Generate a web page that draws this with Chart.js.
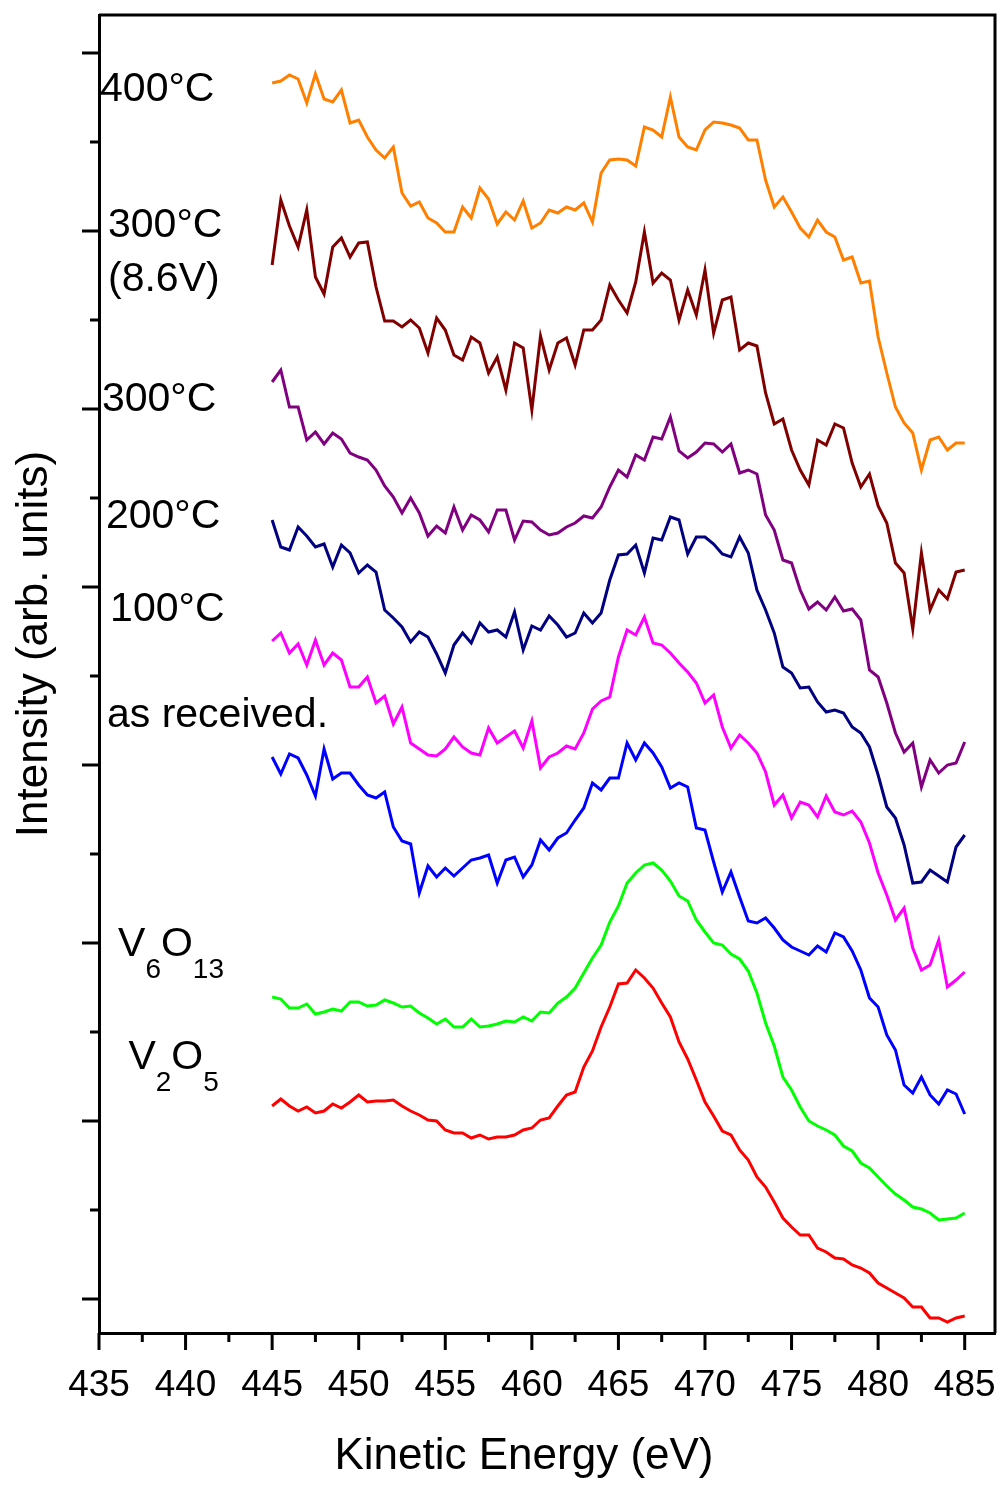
<!DOCTYPE html>
<html>
<head>
<meta charset="utf-8">
<script src="https://cdn.jsdelivr.net/npm/chart.js@4.4.0/dist/chart.umd.min.js"></script>
<style>
  body { margin: 0; background: #fff; }
  #wrap { width: 1001px; height: 1485px; }
</style>
</head>
<body>
<div id="wrap"><canvas id="xpsChart"></canvas></div>
<script>
// kinetic energy grid (eV)
const energy = [445, 445.5, 446, 446.5, 447, 447.5, 448, 448.5, 449, 449.5,
  450, 450.5, 451, 451.5, 452, 452.5, 453, 453.5, 454, 454.5,
  455, 455.5, 456, 456.5, 457, 457.5, 458, 458.5, 459, 459.5,
  460, 460.5, 461, 461.5, 462, 462.5, 463, 463.5, 464, 464.5,
  465, 465.5, 466, 466.5, 467, 467.5, 468, 468.5, 469, 469.5,
  470, 470.5, 471, 471.5, 472, 472.5, 473, 473.5, 474, 474.5,
  475, 475.5, 476, 476.5, 477, 477.5, 478, 478.5, 479, 479.5,
  480, 480.5, 481, 481.5, 482, 482.5, 483, 483.5, 484, 484.5, 485];

// intensities (arb. units, already offset for stacking)
const t400 = [1250, 1252, 1258, 1254, 1230, 1259, 1234, 1231, 1243, 1210,
  1213, 1196, 1183, 1175, 1186, 1140, 1127, 1131, 1115, 1110,
  1101, 1101, 1126, 1115, 1145, 1134, 1109, 1121, 1113, 1132,
  1105, 1110, 1123, 1120, 1126, 1123, 1130, 1111, 1160, 1173,
  1174, 1173, 1167, 1206, 1203, 1196, 1236, 1196, 1186, 1183,
  1203, 1211, 1210, 1208, 1205, 1193, 1193, 1153, 1126, 1136,
  1121, 1105, 1096, 1113, 1101, 1096, 1073, 1076, 1050, 1052,
  996, 960, 926, 910, 900, 863, 893, 896, 883, 890, 890];
const t300v = [1068, 1133, 1107, 1086, 1123, 1056, 1039, 1086, 1095, 1076,
  1090, 1091, 1046, 1012, 1012, 1006, 1013, 1005, 980, 1015,
  1003, 978, 973, 996, 990, 960, 976, 943, 990, 985,
  923, 997, 963, 990, 995, 968, 1003, 1003, 1013, 1048,
  1033, 1020, 1051, 1101, 1050, 1060, 1053, 1013, 1043, 1018,
  1063, 1000, 1033, 1036, 983, 990, 987, 940, 909, 914,
  883, 863, 848, 893, 888, 909, 905, 870, 846, 859,
  827, 810, 770, 760, 704, 780, 723, 743, 734, 761, 763];
const t300 = [951, 963, 926, 926, 893, 901, 889, 900, 894, 880,
  876, 873, 863, 847, 836, 820, 835, 820, 797, 807,
  800, 826, 803, 818, 813, 801, 823, 823, 793, 812,
  811, 803, 798, 800, 806, 810, 817, 815, 826, 846,
  863, 856, 878, 873, 896, 894, 916, 882, 875, 881,
  890, 889, 881, 889, 860, 863, 859, 818, 803, 773,
  770, 743, 724, 731, 723, 736, 722, 724, 713, 663,
  656, 630, 600, 581, 590, 546, 573, 560, 568, 570, 591];
const t200 = [813, 786, 783, 806, 797, 786, 789, 766, 788, 780,
  760, 768, 761, 723, 715, 706, 691, 701, 696, 679,
  660, 688, 700, 690, 710, 701, 703, 696, 721, 683,
  707, 703, 717, 708, 696, 700, 720, 710, 720, 753,
  778, 779, 788, 760, 795, 793, 816, 813, 779, 796,
  796, 789, 779, 776, 796, 780, 743, 723, 700, 666,
  660, 645, 646, 631, 621, 623, 620, 606, 600, 586,
  558, 526, 515, 488, 450, 451, 463, 457, 451, 486, 498];
const t100 = [692, 700, 680, 689, 668, 693, 668, 680, 673, 646,
  646, 656, 630, 637, 609, 626, 590, 584, 578, 577,
  584, 596, 586, 580, 578, 605, 590, 596, 602, 585,
  612, 565, 576, 580, 587, 584, 600, 624, 632, 636,
  676, 703, 698, 716, 690, 688, 680, 670, 661, 650,
  630, 638, 606, 585, 598, 590, 580, 561, 528, 538,
  515, 531, 528, 516, 537, 521, 518, 522, 511, 490,
  460, 438, 413, 425, 385, 363, 368, 393, 346, 353, 361];
const asReceived = [576, 559, 579, 575, 558, 537, 584, 554, 560, 560,
  548, 538, 535, 541, 506, 492, 489, 440, 467, 456,
  465, 457, 465, 473, 475, 478, 450, 473, 476, 456,
  468, 493, 483, 495, 500, 513, 525, 550, 543, 555,
  555, 590, 573, 590, 580, 566, 545, 550, 546, 505,
  503, 471, 441, 461, 436, 412, 410, 415, 405, 393,
  386, 382, 378, 387, 381, 400, 396, 382, 363, 335,
  326, 298, 283, 248, 240, 256, 238, 229, 243, 239, 219];
const v6o13 = [336, 334, 325, 325, 329, 319, 321, 324, 322, 331,
  331, 327, 328, 333, 330, 326, 327, 320, 315, 309,
  314, 306, 306, 314, 306, 307, 309, 312, 311, 316,
  312, 321, 320, 330, 336, 345, 360, 375, 388, 411,
  427, 450, 460, 468, 470, 463, 452, 437, 432, 413,
  401, 390, 388, 379, 374, 362, 340, 310, 287, 256,
  243, 226, 212, 207, 203, 198, 187, 182, 170, 165,
  156, 147, 139, 133, 126, 124, 120, 113, 114, 115, 120];
const v2o5 = [227, 234, 227, 222, 226, 220, 222, 229, 225, 231,
  238, 231, 232, 232, 233, 227, 222, 218, 213, 212,
  203, 200, 200, 195, 198, 194, 196, 196, 198, 203,
  205, 213, 215, 227, 238, 241, 266, 282, 306, 326,
  349, 350, 363, 355, 345, 330, 316, 291, 274, 253,
  231, 217, 202, 198, 183, 173, 156, 146, 131, 115,
  106, 98, 98, 85, 81, 75, 74, 68, 65, 60,
  50, 45, 40, 35, 26, 26, 15, 15, 11, 15, 17];

const xMajor = [435, 440, 445, 450, 455, 460, 465, 470, 475, 480, 485];
const xMinor = [437.5, 442.5, 447.5, 452.5, 457.5, 462.5, 467.5, 472.5, 477.5, 482.5];
const yMajor = [34, 212, 390, 568, 746, 924, 1102, 1280];
const yMinor = [123, 301, 479, 657, 835, 1013, 1191];

const labelText = ['400°C', '300°C', '(8.6V)', '300°C', '200°C', '100°C', 'as received.'];
const labelX = [435.06, 435.52, 435.52, 435.17, 435.4, 435.64, 435.46];
const labelY = [1243, 1107, 1053, 933, 816, 723, 617];
// formulas: [text, subscript?] pieces
const formulas = [
  [['V', 0], ['6', 1], ['O', 0], ['13', 1]],
  [['V', 0], ['2', 1], ['O', 0], ['5', 1]]
];
const formulaX = [436.1, 436.7];
const formulaY = [388, 275];

const FONT = '"Liberation Sans", Arial, sans-serif';

function series(label, values, color) {
  return {
    label: label,
    data: values.map((v, i) => ({x: energy[i], y: v})),
    borderColor: color,
    borderWidth: 3,
    pointRadius: 0,
    fill: false,
    tension: 0
  };
}

const decorations = {
  id: 'decorations',
  afterDraw(chart) {
    const {ctx, chartArea: a, scales: {x, y}} = chart;
    ctx.save();
    ctx.strokeStyle = '#000';
    ctx.lineWidth = 3;
    ctx.beginPath();
    ctx.moveTo(a.left, a.top);
    ctx.lineTo(a.right, a.top);
    ctx.lineTo(a.right, a.bottom);
    xMajor.forEach(v => {
      const p = x.getPixelForValue(v);
      ctx.moveTo(p, a.bottom);
      ctx.lineTo(p, a.bottom + 17);
    });
    xMinor.forEach(v => {
      const p = x.getPixelForValue(v);
      ctx.moveTo(p, a.bottom);
      ctx.lineTo(p, a.bottom + 9);
    });
    yMajor.forEach(v => {
      const p = y.getPixelForValue(v);
      ctx.moveTo(a.left, p);
      ctx.lineTo(a.left - 17, p);
    });
    yMinor.forEach(v => {
      const p = y.getPixelForValue(v);
      ctx.moveTo(a.left, p);
      ctx.lineTo(a.left - 9, p);
    });
    ctx.stroke();

    ctx.fillStyle = '#000';
    ctx.textBaseline = 'middle';
    ctx.textAlign = 'left';
    ctx.font = '41px ' + FONT;
    labelText.forEach((t, i) => {
      ctx.fillText(t, x.getPixelForValue(labelX[i]), y.getPixelForValue(labelY[i]));
    });

    formulas.forEach((parts, i) => {
      let px = x.getPixelForValue(formulaX[i]);
      const py = y.getPixelForValue(formulaY[i]);
      parts.forEach(([t, sub]) => {
        ctx.font = (sub ? '28px ' : '41px ') + FONT;
        ctx.fillText(t, px, sub ? py + 25 : py);
        px += ctx.measureText(t).width;
      });
    });

    // axis titles
    ctx.font = '44px ' + FONT;
    ctx.textAlign = 'center';
    ctx.fillText('Kinetic Energy (eV)', 524, 1457);
    ctx.translate(35, 644);
    ctx.rotate(-Math.PI / 2);
    ctx.fillText('Intensity (arb. units)', 0, 0);
    ctx.restore();
  }
};

new Chart(document.getElementById('xpsChart'), {
  type: 'line',
  data: {
    datasets: [
      series('400°C', t400, '#FF8000'),
      series('300°C (8.6V)', t300v, '#800000'),
      series('300°C', t300, '#800080'),
      series('200°C', t200, '#000080'),
      series('100°C', t100, '#FF00FF'),
      series('as received', asReceived, '#0000FF'),
      series('V6O13', v6o13, '#00FF00'),
      series('V2O5', v2o5, '#FF0000')
    ]
  },
  options: {
    responsive: true,
    maintainAspectRatio: false,
    animation: false,
    devicePixelRatio: 1,
    layout: { padding: { top: 15, right: 6, left: 0, bottom: 0 } },
    plugins: { legend: { display: false }, tooltip: { enabled: false } },
    scales: {
      x: {
        type: 'linear',
        min: 435,
        max: 486.75,
        afterBuildTicks: s => { s.ticks = xMajor.map(v => ({value: v})); },
        afterFit: s => { s.height = 152; s.paddingLeft = 0; s.paddingRight = 0; },
        grid: { display: false, drawTicks: false },
        border: { display: true, color: '#000', width: 3 },
        ticks: {
          color: '#000',
          padding: 31,
          maxRotation: 0,
          autoSkip: false,
          font: { family: FONT, size: 37 }
        }
      },
      y: {
        type: 'linear',
        min: 0,
        max: 1318,
        afterFit: s => { s.width = 99; s.paddingTop = 0; s.paddingBottom = 0; },
        grid: { display: false, drawTicks: false },
        border: { display: true, color: '#000', width: 3 },
        ticks: { display: false }
      }
    }
  },
  plugins: [decorations]
});
</script>
</body>
</html>
